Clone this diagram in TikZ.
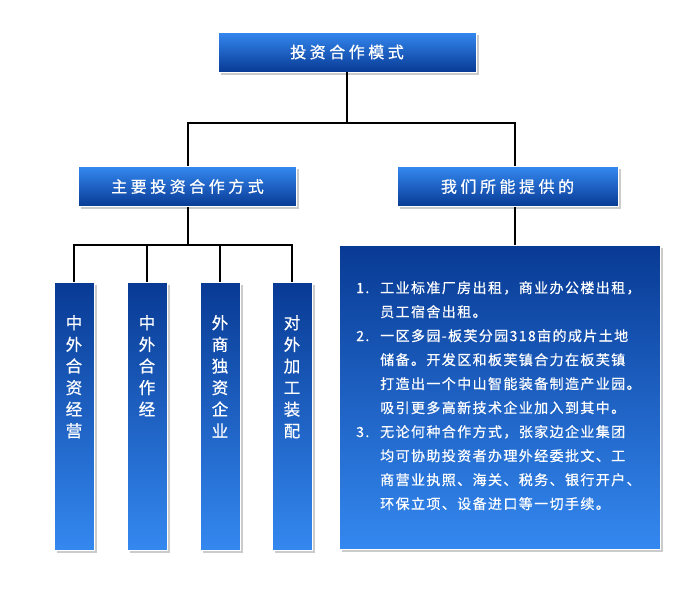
\documentclass[tikz,border=0pt]{standalone}
\usepackage{fontspec}
\setmainfont{Noto Sans CJK SC}[FakeBold=0.6]
\newfontfamily\headfont[LetterSpace=22,FakeBold=0.7]{Noto Sans CJK SC}
\newfontfamily\bodyfont[LetterSpace=10,FakeBold=0.6]{Noto Sans CJK SC}
\usetikzlibrary{shadows}
\definecolor{lightblue}{RGB}{52,136,240}
\definecolor{darkblue}{RGB}{8,58,148}
\tikzset{
  headbox/.style={rectangle, draw=white, line width=0.6pt, top color=lightblue, bottom color=darkblue,
    text=white, font=\headfont\fontsize{16}{18}\selectfont,
    drop shadow={shadow xshift=2.5pt, shadow yshift=-2.5pt, fill=black!40},
    minimum width=218pt, minimum height=40pt, inner sep=0pt},
  colbox/.style={rectangle, draw=white, line width=0.6pt, top color=darkblue, bottom color=lightblue,
    drop shadow={shadow xshift=2.5pt, shadow yshift=-2.5pt, fill=black!40},
    minimum width=40pt, minimum height=268pt, inner sep=0pt},
  coltext/.style={anchor=north, text=white, align=center, inner sep=0pt,
    font=\fontsize{16.5}{21.6}\selectfont},
  conn/.style={draw=black, line width=1.3pt}
}
\begin{document}
\begin{tikzpicture}[x=1pt,y=-1pt]
\path[use as bounding box, fill=white] (0,0) rectangle (695,600);

\node[headbox, minimum width=258pt] (top) at (347,52) {投资合作模式};
\node[headbox] (left) at (187.5,186.5) {主要投资合作方式};
\node[headbox, minimum width=221pt] (right) at (507.5,186.5) {我们所能提供的};

\node[colbox] (c1) at (74,416) {};
\node[colbox] (c2) at (147,416) {};
\node[colbox] (c3) at (220,416) {};
\node[colbox] (c4) at (292,416) {};

\node[colbox, minimum width=321pt, minimum height=304pt] (big) at (499.5,397) {};

\node[coltext] (t1) at (74,315) {中\\外\\合\\资\\经\\营};
\node[coltext] (t2) at (147,315) {中\\外\\合\\作\\经};
\node[coltext] (t3) at (220,315) {外\\商\\独\\资\\企\\业};
\node[coltext] (t4) at (292,315) {对\\外\\加\\工\\装\\配};

\node[anchor=north west, inner sep=0pt, align=left, text=white,
  font=\bodyfont\fontsize{14}{24}\selectfont] (body) at (356,281) {%
\makebox[24pt][l]{1.}工业标准厂房出租，商业办公楼出租，\\
\hspace*{24pt}员工宿舍出租。\\
\makebox[24pt][l]{2.}一区多园-板芙分园318亩的成片土地\\
\hspace*{24pt}储备。开发区和板芙镇合力在板芙镇\\
\hspace*{24pt}打造出一个中山智能装备制造产业园。\\
\hspace*{24pt}吸引更多高新技术企业加入到其中。\\
\makebox[24pt][l]{3.}无论何种合作方式，张家边企业集团\\
\hspace*{24pt}均可协助投资者办理外经委批文、工\\
\hspace*{24pt}商营业执照、海关、税务、银行开户、\\
\hspace*{24pt}环保立项、设备进口等一切手续。};

\coordinate (jt) at (347,123);
\coordinate (jl) at (188,245);
\draw[conn] (top.south) -- (jt);
\draw[conn] ([xshift=0.5pt]left.north) |- (jt) -| ([xshift=7.5pt]right.north);
\draw[conn] ([xshift=0.5pt]left.south) -- (jl);
\draw[conn] (c1.north) |- (jl) -| (c4.north);
\draw[conn] (c2.north) -- (c2.north |- jl);
\draw[conn] (c3.north) -- (c3.north |- jl);
\draw[conn] ([xshift=7.5pt]right.south) -- ([xshift=7.5pt]right.south |- big.north);
\end{tikzpicture}
\end{document}
